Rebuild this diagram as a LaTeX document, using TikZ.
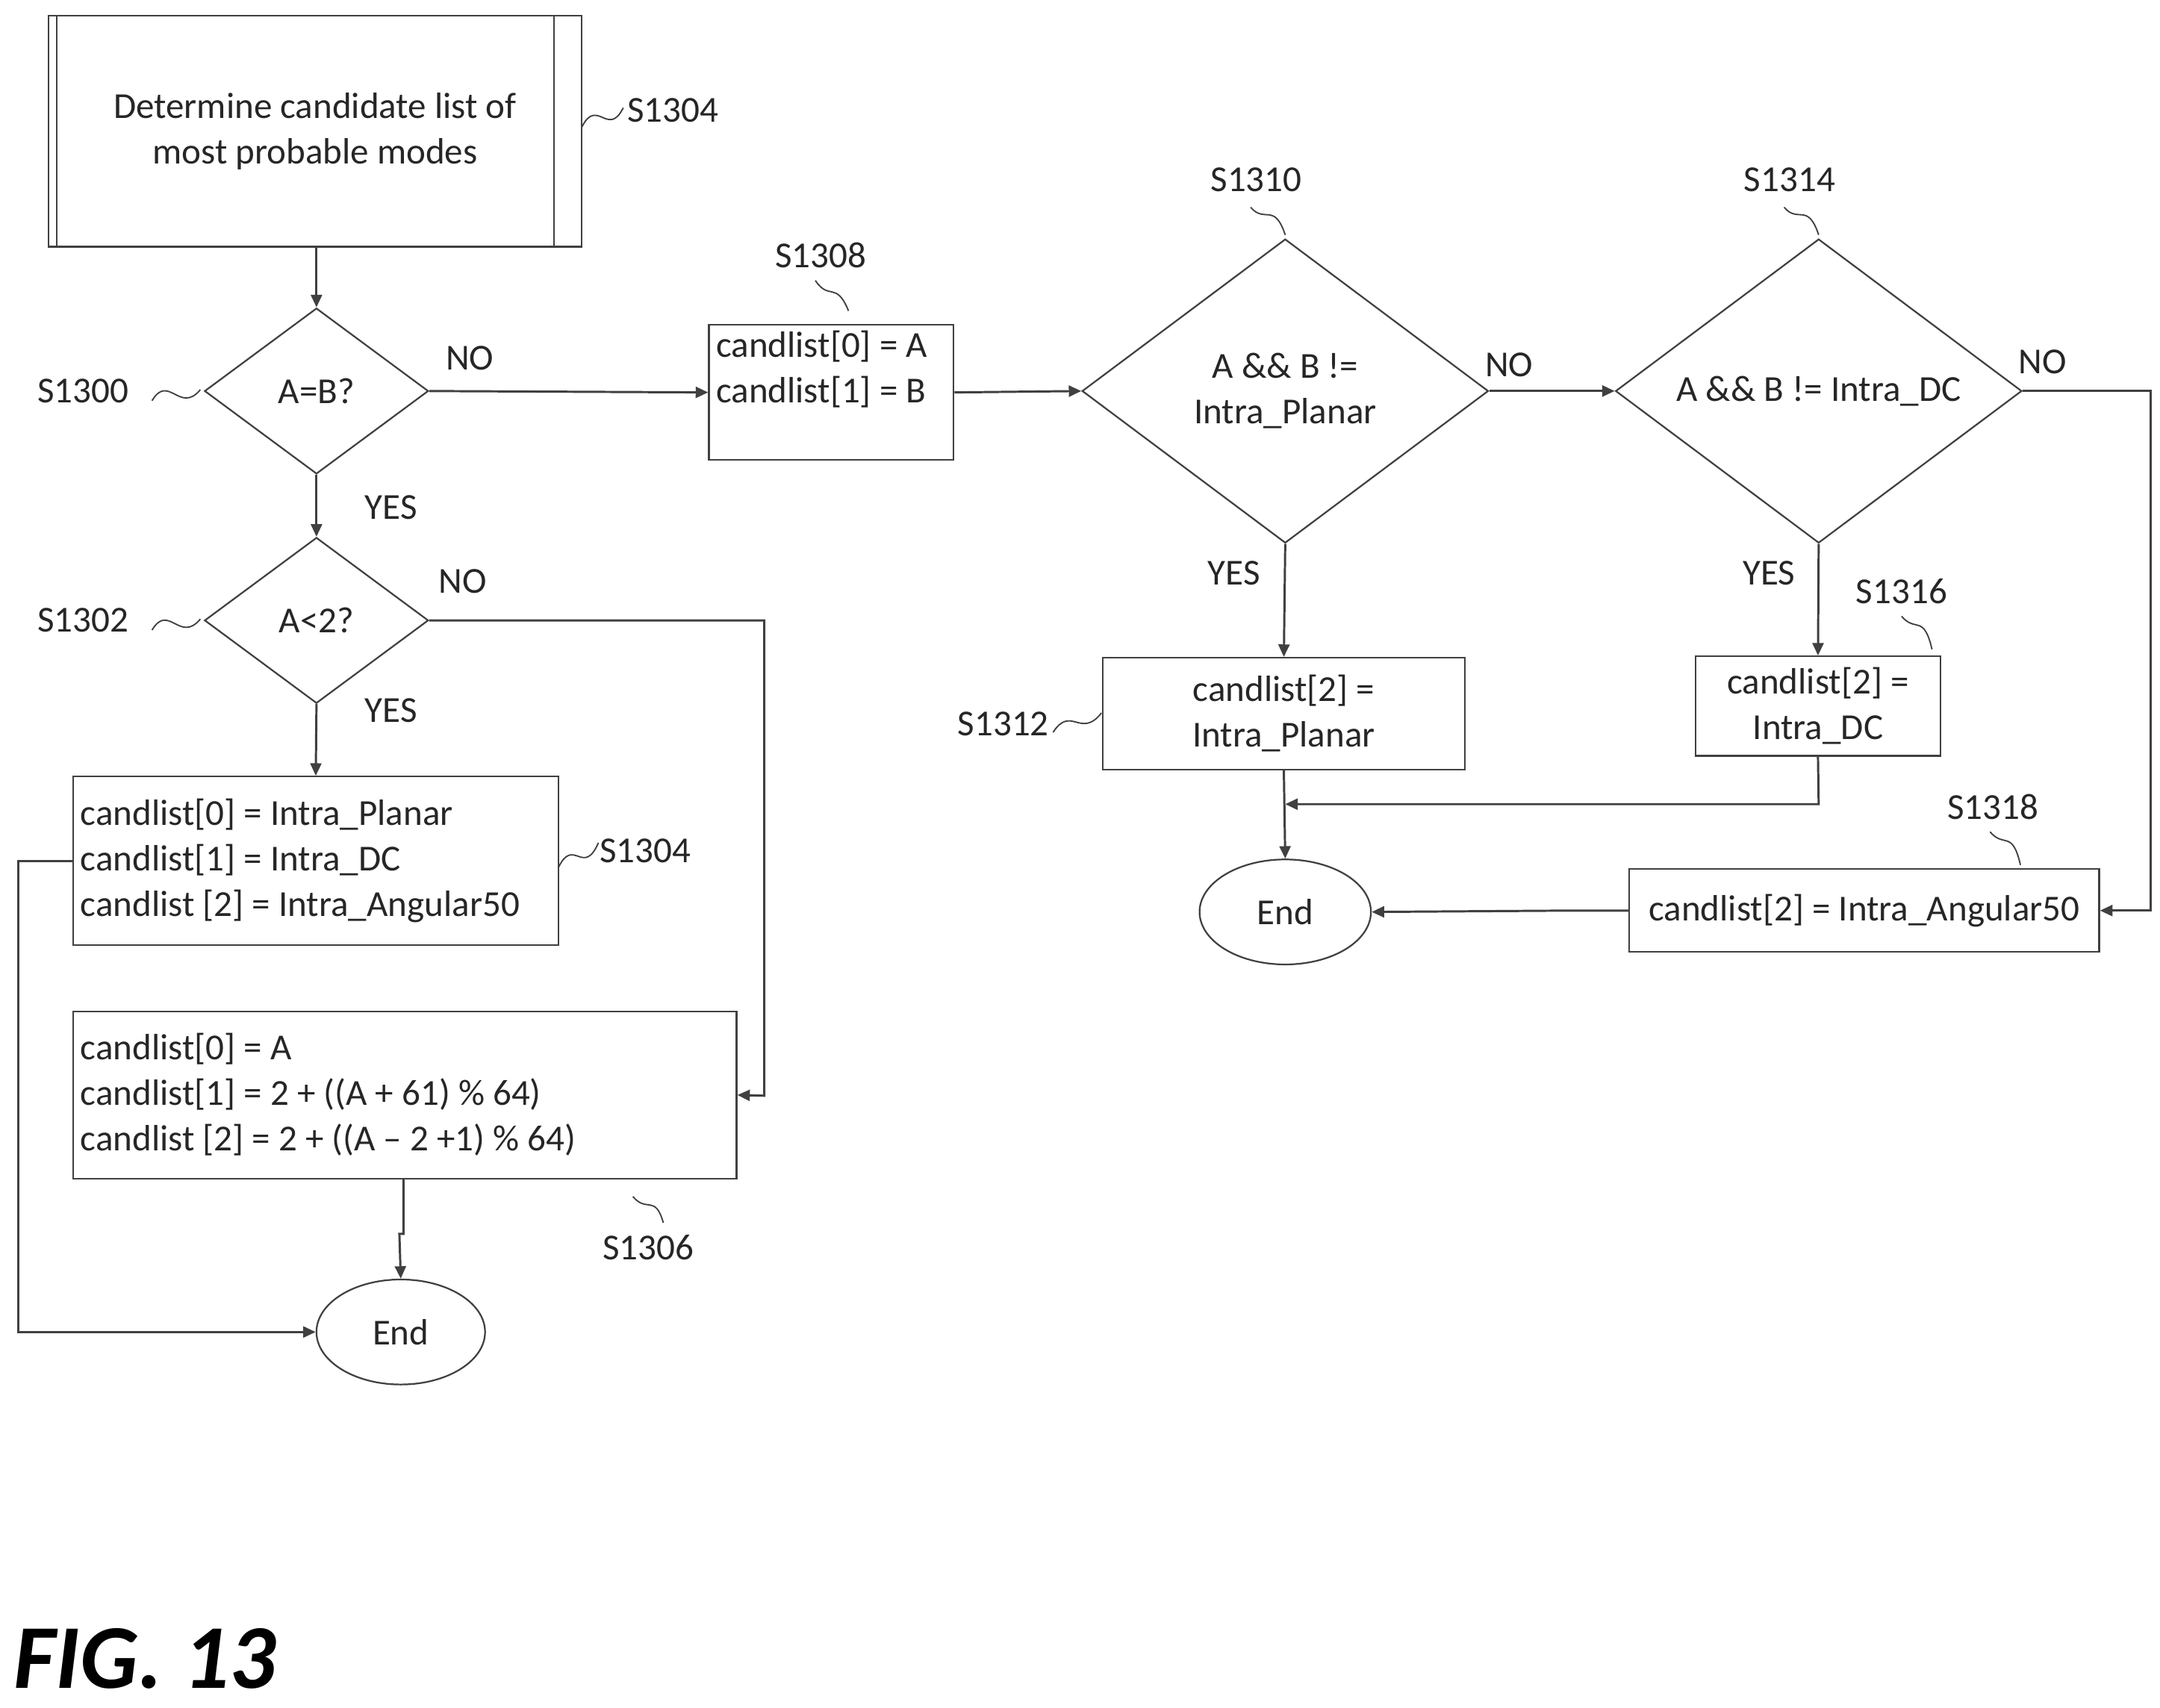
\documentclass[tikz,border=0pt]{standalone}
\usepackage{fontspec}
\setmainfont{Carlito}
\usetikzlibrary{shapes.geometric,arrows.meta}
\begin{document}
\begin{tikzpicture}[x=1pt,y=-1pt,
  every node/.style={font=\fontsize{26.5}{33}\selectfont, text=black!85},
  ln/.style={draw=black!75, line width=1.6pt},
  arr/.style={ln,-{Triangle[length=9pt,width=8pt]}},
  box/.style={draw=black!75, line width=1.2pt, inner sep=0pt},
  dia/.style={draw=black!75, line width=1.2pt, diamond, inner sep=0pt, align=center},
  ell/.style={draw=black!75, line width=1.2pt, ellipse, inner sep=0pt},
  sq/.style={draw=black!75, line width=1pt},
  lab/.style={inner sep=0pt}]
\useasboundingbox (0,0) rectangle (1563,1236);
% top predefined process
\node[box, minimum width=386pt, minimum height=167pt, align=center] (top) at (228,95) {Determine candidate list of\\most probable modes};
\draw[box] (41,12) -- (41,179) (401,12) -- (401,179);
\node[lab] (l1304a) at (487,80) {S1304};
\draw[sq] (421,92) .. controls (432,70) and (440,100) .. (451,78);
% diamond 1
\node[dia, minimum width=162pt, minimum height=120pt] (d1) at (229,283) {A=B?};
\node[lab] (l1300) at (60,283) {S1300};
\draw[sq] (110,290) .. controls (122,270) and (130,300) .. (145,282);
\draw[arr] (229,179) -- (d1.north);
\node[lab] at (340,259) {NO};
% box S1308
\node[box, minimum width=177pt, minimum height=98pt] (b1308) at (601.5,284) {};
\node[lab, align=left, anchor=west] at (518,267) {candlist[0] = A\\candlist[1] = B};
\node[lab] (l1308) at (594,185) {S1308};
\draw[sq] (590,203) .. controls (600,218) and (605,203) .. (614,225);
\draw[arr] (d1.east) -- (b1308.west);
% diamond S1310
\node[dia, minimum width=294pt, minimum height=220pt] (d2) at (930,283) {};
\node[lab, align=center] at (930,283) {A \&\& B !=\\Intra\_Planar};
\node[lab] (l1310) at (909,130) {S1310};
\draw[sq] (905,150) .. controls (915,162) and (922,146) .. (930,170);
\draw[arr] (b1308.east) -- (d2.west);
\node[lab] at (1092,264) {NO};
% diamond S1314
\node[dia, minimum width=294pt, minimum height=220pt] (d3) at (1316,283) {};
\node[lab] at (1316,283) {A \&\& B != Intra\_DC};
\node[lab] (l1314) at (1295,130) {S1314};
\draw[sq] (1291,150) .. controls (1301,162) and (1308,146) .. (1316,170);
\draw[arr] (d2.east) -- (d3.west);
\node[lab] at (1478,262) {NO};
% S1318
\node[box, minimum width=340pt, minimum height=60pt] (b1318) at (1349,659) {candlist[2] = Intra\_Angular50};
\node[lab] (l1318) at (1442,584) {S1318};
\draw[sq] (1440,602) .. controls (1450,614) and (1456,600) .. (1462,626);
\draw[arr] (d3.east) -- (1556,283) -- (1556,659) -- (b1318.east);
% End right
\node[ell, minimum width=124pt, minimum height=76pt] (end2) at (930,660) {End};
\draw[arr] (b1318.west) -- (1138,659) -- (end2.east);
% S1312
\node[box, minimum width=262pt, minimum height=81pt, align=center] (b1312) at (929,516.5) {candlist[2] =\\Intra\_Planar};
\node[lab] (l1312) at (726,524) {S1312};
\draw[sq] (762,530) .. controls (775,510) and (782,535) .. (797,516);
\draw[arr] (d2.south) -- (b1312.north);
\node[lab] at (893,415) {YES};
\draw[arr] (b1312.south) -- (end2.north);
% S1316
\node[box, minimum width=177pt, minimum height=72pt, align=center] (b1316) at (1315.5,511) {candlist[2] =\\Intra\_DC};
\node[lab] (l1316) at (1376,428) {S1316};
\draw[sq] (1376,446) .. controls (1386,458) and (1392,444) .. (1398,470);
\draw[arr] (d3.south) -- (b1316.north);
\node[lab] at (1280,415) {YES};
\coordinate (j1) at (930,582);
\draw[arr] (b1316.south) -- (1316,582) -- (j1);
% diamond A<2
\node[dia, minimum width=162pt, minimum height=120pt] (d4) at (229,449) {A<2?};
\node[lab] (l1302) at (60,449) {S1302};
\draw[sq] (110,456) .. controls (122,436) and (130,466) .. (145,448);
\draw[arr] (d1.south) -- (d4.north);
\node[lab] at (283,367) {YES};
\node[lab] at (335,421) {NO};
% S1304 box
\node[box, minimum width=351pt, minimum height=122pt] (b1304) at (228.5,623) {};
\node[lab, align=left, anchor=west] at (58,623) {candlist[0] = Intra\_Planar\\candlist[1] = Intra\_DC\\candlist [2] = Intra\_Angular50};
\node[lab] (l1304b) at (467,616) {S1304};
\draw[sq] (404,628) .. controls (415,605) and (422,635) .. (433,610);
\draw[arr] (d4.south) -- (b1304.north);
\node[lab] at (283,514) {YES};
% S1306 box
\node[box, minimum width=480pt, minimum height=121pt] (b1306) at (293,792.5) {};
\node[lab, align=left, anchor=west] at (58,792) {candlist[0] = A\\candlist[1] = 2 + ((A + 61) \% 64)\\candlist [2] = 2 + ((A -- 2 +1) \% 64)};
\node[lab] (l1306) at (469,903) {S1306};
\draw[sq] (458,866) .. controls (468,878) and (474,864) .. (480,885);
\draw[arr] (d4.east) -- (553,449) -- (553,793) -- (b1306.east);
% End left
\node[ell, minimum width=122pt, minimum height=76pt] (end1) at (290,964) {End};
\draw[arr] (292,853) -- (292,893) -- (289,893) -- (end1.north);
\draw[arr] (b1304.west) -- (13,623) -- (13,964) -- (end1.west);
% figure label
\node[lab, anchor=base west, font=\fontsize{66}{68}\selectfont\bfseries\itshape, text=black] (fig) at (10,1222) {FIG. 13};
\end{tikzpicture}
\end{document}
